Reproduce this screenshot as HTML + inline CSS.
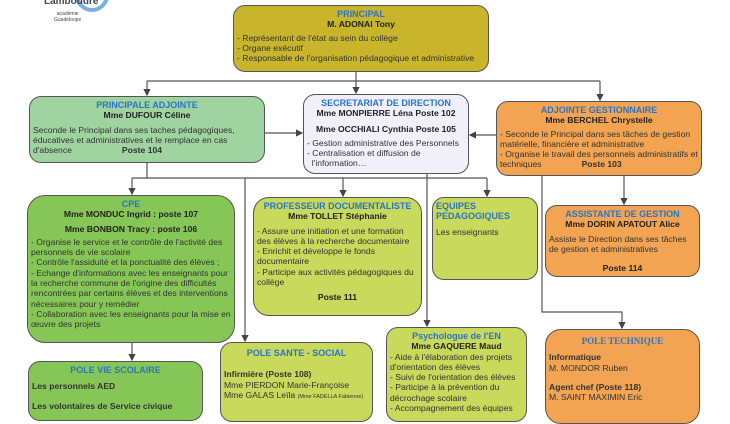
<!DOCTYPE html>
<html><head><meta charset="utf-8"><style>
body{margin:0;width:730px;height:410px;overflow:hidden;background:#fff;font-family:"Liberation Sans",sans-serif;position:relative;color:#333}
.b{position:absolute;border:1.3px solid #555;border-radius:12px;box-sizing:border-box;font-size:8.6px;line-height:10.3px;padding:3px 3px;overflow:hidden}
.t{color:#2a74c8;font-weight:bold;text-align:center;font-size:9px}
.n{font-weight:bold;text-align:center;color:#222}
svg{position:absolute;left:0;top:0}
</style></head><body>
<svg width="730" height="410" stroke="#555" stroke-width="1.2" fill="none">
<defs><marker id="a" markerWidth="6" markerHeight="6" refX="5" refY="3" orient="auto"><path d="M0,0L6,3L0,6z" fill="#444" stroke="none"/></marker></defs>
<path d="M356,72V81M147,81H600"/>
<path d="M147,81V95" marker-end="url(#a)"/><path d="M356,81V93" marker-end="url(#a)"/><path d="M600,81V100" marker-end="url(#a)"/>
<path d="M265,133H302" marker-end="url(#a)"/><path d="M496,135H470" marker-end="url(#a)"/>
<path d="M147,163V178M132,178H487"/>
<path d="M132,178V194" marker-end="url(#a)"/><path d="M343,178V196" marker-end="url(#a)"/><path d="M487,178V196" marker-end="url(#a)"/>
<path d="M245,178V341" marker-end="url(#a)"/>
<path d="M427,174V326" marker-end="url(#a)"/>
<path d="M542,176V312H622V328" marker-end="url(#a)"/>
<path d="M624,176V204" marker-end="url(#a)"/>
<path d="M132,343V360" marker-end="url(#a)"/>
<circle cx="92" cy="-5" r="15" stroke="#7ab0e0" stroke-width="4"/>
</svg>
<div style="position:absolute;left:44px;top:-4px;font-size:10px;font-weight:bold;color:#445">Lamboudre</div>
<div style="position:absolute;left:54px;top:11px;font-size:5px;line-height:6px;color:#445;text-align:center">académie<br>Guadeloupe</div>

<div class="b" style="left:233px;top:5px;width:256px;height:67px;background:#c9b52c">
<div class="t">PRINCIPAL</div><div class="n">M. ADONAI Tony</div>
<div style="margin-top:3px">- Représentant de l'état au sein du collège<br>- Organe exécutif<br>- Responsable de l'organisation pédagogique et administrative</div></div>

<div class="b" style="left:29px;top:96px;width:236px;height:67px;background:#9fd4a0">
<div class="t">PRINCIPALE ADJOINTE</div><div class="n">Mme DUFOUR Céline</div>
<div style="margin-top:4px">Seconde le Principal dans ses taches pédagogiques, éducatives et administratives et le remplace en cas d'absence<span style="margin-left:50px;font-weight:bold">Poste 104</span></div></div>

<div class="b" style="left:303px;top:94px;width:166px;height:80px;background:#f1eff9">
<div class="t">SECRETARIAT DE DIRECTION</div><div class="n">Mme MONPIERRE Léna Poste 102</div>
<div class="n" style="margin-top:5px">Mme OCCHIALI Cynthia Poste 105</div>
<div style="margin-top:4px">- Gestion administrative des Personnels<br>- Centralisation et diffusion de<br>&nbsp;&nbsp;l'information…</div></div>

<div class="b" style="left:496px;top:101px;width:206px;height:75px;background:#f2a452">
<div class="t">ADJOINTE GESTIONNAIRE</div><div class="n">Mme BERCHEL Chrystelle</div>
<div style="margin-top:3px">- Seconde le Principal dans ses tâches de gestion matérielle, financière et administrative<br>- Organise le travail des personnels administratifs et techniques<span style="margin-left:40px;font-weight:bold">Poste 103</span></div></div>

<div class="b" style="left:27px;top:195px;width:208px;height:148px;background:#86c657;border-radius:18px">
<div class="t">CPE</div><div class="n">Mme MONDUC Ingrid : poste 107</div>
<div class="n" style="margin-top:4px">Mme BONBON Tracy : poste 106</div>
<div style="margin-top:3px">- Organise le service et le contrôle de l'activité des personnels de vie scolaire<br>- Contrôle l'assiduité et la ponctualité des élèves ;<br>- Echange d'informations avec les enseignants pour la recherche commune de l'origine des difficultés rencontrées par certains élèves et des interventions nécessaires pour y remédier<br>- Collaboration avec les enseignants pour la mise en œuvre des projets</div></div>

<div class="b" style="left:253px;top:197px;width:169px;height:119px;background:#c8d95c;border-radius:16px">
<div class="t">PROFESSEUR DOCUMENTALISTE</div><div class="n">Mme TOLLET Stéphanie</div>
<div style="margin-top:4px">- Assure une initiation et une formation des élèves à la recherche documentaire<br>- Enrichit et développe le fonds documentaire<br>- Participe aux activités pédagogiques du collège</div>
<div class="n" style="margin-top:5px">Poste 111</div></div>

<div class="b" style="left:432px;top:197px;width:106px;height:83px;background:#c8d95c">
<div class="t" style="text-align:left">EQUIPES<br>PEDAGOGIQUES</div>
<div style="margin-top:5px">Les enseignants</div></div>

<div class="b" style="left:545px;top:205px;width:155px;height:72px;background:#f2a452">
<div class="t">ASSISTANTE DE GESTION</div><div class="n">Mme DORIN APATOUT Alice</div>
<div style="margin-top:4px">Assiste le Direction dans ses tâches de gestion et administratives</div>
<div class="n" style="margin-top:9px">Poste 114</div></div>

<div class="b" style="left:28px;top:361px;width:175px;height:60px;background:#86c657">
<div class="t">POLE VIE SCOLAIRE</div>
<div style="font-weight:bold;margin-top:6px">Les personnels AED</div>
<div style="font-weight:bold;margin-top:9px">Les volontaires de Service civique</div></div>

<div class="b" style="left:220px;top:342px;width:153px;height:80px;background:#c8d95c">
<div class="t" style="margin-top:2px">POLE SANTE - SOCIAL</div>
<div style="margin-top:11px;white-space:nowrap"><b>Infirmière (Poste 108)</b><br>Mme PIERDON Marie-Françoise<br>Mme GALAS Leïla <span style="font-size:5.5px">(Mme FADELLA Fabienne)</span></div></div>

<div class="b" style="left:386px;top:327px;width:141px;height:95px;background:#c8d95c">
<div class="t">Psychologue de l'EN</div><div class="n">Mme GAQUERE Maud</div>
<div>- Aide à l'élaboration des projets d'orientation des élèves<br>- Suivi de l'orientation des élèves<br>- Participe à la prévention du décrochage scolaire<br>- Accompagnement des équipes</div></div>

<div class="b" style="left:545px;top:329px;width:155px;height:95px;background:#f2a452;border-radius:16px">
<div class="t" style="font-family:'Liberation Serif',serif;margin-top:3px">POLE TECHNIQUE</div>
<div style="margin-top:6px"><b>Informatique</b><br>M. MONDOR Ruben</div>
<div style="margin-top:9px"><b>Agent chef (Poste 118)</b><br>M. SAINT MAXIMIN Eric</div></div>
</body></html>
